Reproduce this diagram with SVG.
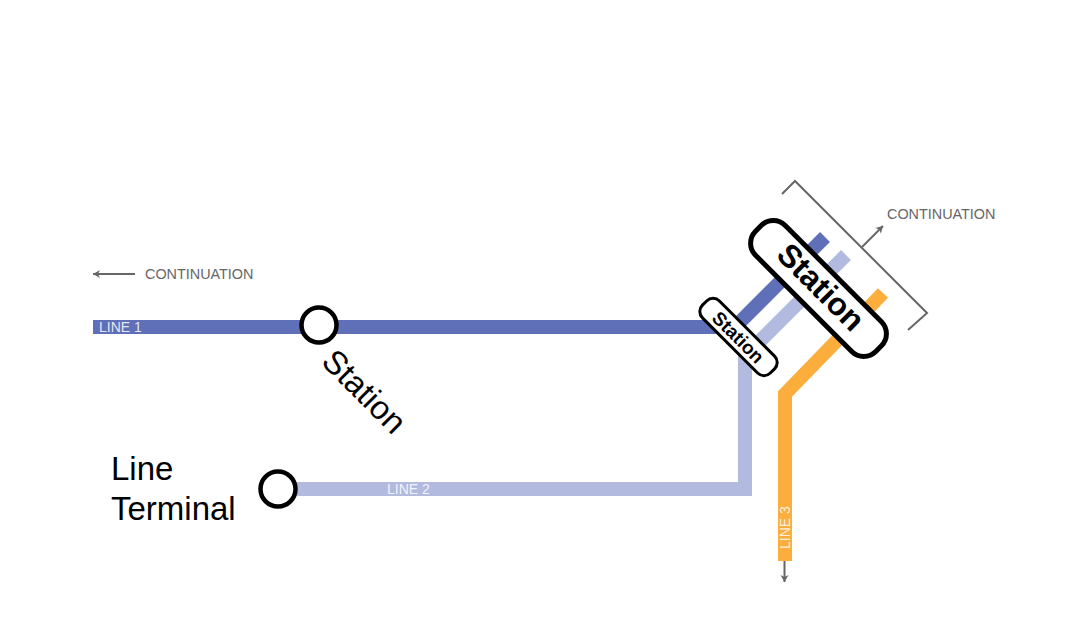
<svg xmlns="http://www.w3.org/2000/svg" width="1087" height="639" viewBox="0 0 1087 639">
<style>
text{font-family:"Liberation Sans",Arial,sans-serif}
.line{fill:none;stroke-width:14;stroke-linejoin:miter}
.gray{fill:none;stroke:#666;stroke-width:2}
.cont{font-size:14.400px;fill:#666}
.lbl{font-size:14px;fill:#fff;fill-opacity:.85}
.name{font-size:33px;fill:#000}
.stop{fill:#fff;stroke:#000;stroke-width:4.500}
.pill{fill:#fff;stroke:#000}
.bold{font-weight:700;fill:#000;text-anchor:middle}
</style>
<defs>
<marker id="head" markerUnits="userSpaceOnUse" markerWidth="10" markerHeight="10" refX="8" refY="5" orient="auto"><path d="M1 1L8 5L1 9L3 5Z" fill="#666"/></marker>
</defs>
<rect width="1087" height="639" fill="#fff"/>
<g id="connectors">
<path id="line-1" class="line" stroke="#6070b8" d="M93 327H735L825 237"/>
<path id="line-2" class="line" stroke="#b3badf" d="M290 489H745V356L846 255"/>
<path id="line-3" class="line" stroke="#fbae3c" d="M785 561V394L883 293"/>
<path id="arrow-left" class="gray" d="M135 274H93" marker-end="url(#head)"/>
<path id="arrow-up" class="gray" d="M862 247L883 226" marker-end="url(#head)"/>
<path id="arrow-down" class="gray" stroke-width="2.500" d="M784.500 561V582" marker-end="url(#head)"/>
<path id="bracket" class="gray" d="M782 194L795 181L927 313L908 330"/>
</g>
<g id="labels">
<text class="cont" x="145" y="279">CONTINUATION</text>
<text class="cont" x="887" y="219">CONTINUATION</text>
<text class="lbl" x="99" y="332">LINE 1</text>
<text class="lbl" x="387" y="494">LINE 2</text>
<text class="lbl" transform="translate(790 549) rotate(-90)">LINE 3</text>
</g>
<g id="station-1">
<circle class="stop" cx="319" cy="325" r="17.500"/>
<text class="name" transform="translate(320 363) rotate(45)">Station</text>
</g>
<g id="terminal">
<circle class="stop" cx="278" cy="489" r="17.500"/>
<text class="name" x="111" y="480">Line</text>
<text class="name" x="111" y="520">Terminal</text>
</g>
<g id="station-small">
<rect class="pill" stroke-width="3" x="-48" y="-12" width="96" height="24" rx="9" transform="translate(738.500 337) rotate(45)"/>
<text class="bold" font-size="19" transform="translate(738.500 337) rotate(45) translate(0 7)">Station</text>
</g>
<g id="station-large">
<rect class="pill" stroke-width="5" x="-85" y="-21" width="170" height="42" rx="17" transform="translate(818.500 288.500) rotate(45)"/>
<text class="bold" font-size="32" transform="translate(821 287) rotate(45) translate(0 11)">Station</text>
</g>
</svg>
